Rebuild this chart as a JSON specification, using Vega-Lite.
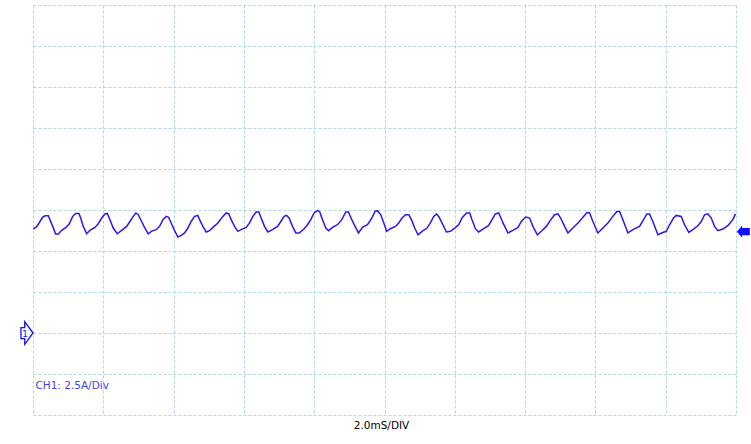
{
  "$schema": "https://vega.github.io/schema/vega-lite/v6.json",
  "autosize": {"type": "none"},
  "width": 703,
  "height": 410,
  "padding": {"left": 33, "top": 5, "right": 15, "bottom": 29},
  "background": "white",
  "config": {"view": {"stroke": null}},
  "datasets": {
    "trace": [
      {"t":0.01,"i":6.34},{"t":0.105,"i":6.48},{"t":0.199,"i":6.80},{"t":0.276,"i":7.07},{"t":0.341,"i":7.15},{"t":0.435,"i":7.15},{"t":0.483,"i":6.91},{"t":0.560,"i":6.50},{"t":0.645,"i":6.04},{"t":0.719,"i":6.04},{"t":0.816,"i":6.26},{"t":0.938,"i":6.44},{"t":1.032,"i":6.66},{"t":1.129,"i":7.11},{"t":1.214,"i":7.29},{"t":1.308,"i":7.29},{"t":1.356,"i":7.01},{"t":1.430,"i":6.50},{"t":1.527,"i":6.05},{"t":1.620,"i":6.26},{"t":1.763,"i":6.44},{"t":1.856,"i":6.66},{"t":1.953,"i":7.01},{"t":2.047,"i":7.26},{"t":2.112,"i":7.29},{"t":2.189,"i":6.91},{"t":2.283,"i":6.40},{"t":2.397,"i":6.05},{"t":2.522,"i":6.26},{"t":2.664,"i":6.50},{"t":2.758,"i":6.80},{"t":2.851,"i":7.11},{"t":2.928,"i":7.32},{"t":2.994,"i":7.21},{"t":3.090,"i":6.80},{"t":3.184,"i":6.40},{"t":3.278,"i":6.04},{"t":3.363,"i":6.20},{"t":3.505,"i":6.30},{"t":3.602,"i":6.50},{"t":3.696,"i":6.91},{"t":3.790,"i":7.11},{"t":3.858,"i":7.05},{"t":3.932,"i":6.71},{"t":4.028,"i":6.24},{"t":4.122,"i":5.85},{"t":4.216,"i":5.95},{"t":4.313,"i":6.10},{"t":4.407,"i":6.40},{"t":4.500,"i":6.80},{"t":4.597,"i":7.11},{"t":4.691,"i":7.17},{"t":4.739,"i":6.91},{"t":4.833,"i":6.50},{"t":4.927,"i":6.16},{"t":5.024,"i":6.24},{"t":5.117,"i":6.44},{"t":5.259,"i":6.71},{"t":5.402,"i":7.11},{"t":5.495,"i":7.32},{"t":5.572,"i":7.26},{"t":5.638,"i":6.91},{"t":5.734,"i":6.50},{"t":5.828,"i":6.20},{"t":5.922,"i":6.30},{"t":6.064,"i":6.44},{"t":6.161,"i":6.71},{"t":6.254,"i":7.11},{"t":6.348,"i":7.38},{"t":6.425,"i":7.38},{"t":6.490,"i":7.01},{"t":6.587,"i":6.50},{"t":6.681,"i":6.16},{"t":6.815,"i":6.30},{"t":6.957,"i":6.50},{"t":7.050,"i":6.80},{"t":7.144,"i":7.11},{"t":7.212,"i":7.17},{"t":7.286,"i":7.01},{"t":7.383,"i":6.50},{"t":7.477,"i":6.10},{"t":7.571,"i":6.10},{"t":7.713,"i":6.36},{"t":7.810,"i":6.60},{"t":7.903,"i":6.91},{"t":7.997,"i":7.32},{"t":8.094,"i":7.46},{"t":8.159,"i":7.38},{"t":8.236,"i":6.91},{"t":8.330,"i":6.40},{"t":8.407,"i":6.24},{"t":8.520,"i":6.44},{"t":8.662,"i":6.60},{"t":8.785,"i":6.91},{"t":8.898,"i":7.38},{"t":8.975,"i":7.38},{"t":9.069,"i":6.91},{"t":9.163,"i":6.50},{"t":9.259,"i":6.10},{"t":9.373,"i":6.44},{"t":9.515,"i":6.60},{"t":9.638,"i":7.01},{"t":9.731,"i":7.41},{"t":9.800,"i":7.46},{"t":9.894,"i":7.21},{"t":10.016,"i":6.50},{"t":10.056,"i":6.20},{"t":10.169,"i":6.36},{"t":10.312,"i":6.50},{"t":10.405,"i":6.71},{"t":10.499,"i":7.01},{"t":10.596,"i":7.21},{"t":10.689,"i":7.21},{"t":10.766,"i":6.91},{"t":10.860,"i":6.40},{"t":10.954,"i":5.99},{"t":11.068,"i":6.20},{"t":11.210,"i":6.40},{"t":11.306,"i":6.71},{"t":11.400,"i":7.11},{"t":11.477,"i":7.26},{"t":11.542,"i":7.11},{"t":11.636,"i":6.71},{"t":11.761,"i":6.16},{"t":11.875,"i":6.20},{"t":11.997,"i":6.40},{"t":12.111,"i":6.60},{"t":12.205,"i":7.01},{"t":12.330,"i":7.32},{"t":12.424,"i":7.32},{"t":12.489,"i":6.91},{"t":12.586,"i":6.36},{"t":12.680,"i":6.16},{"t":12.822,"i":6.36},{"t":12.964,"i":6.56},{"t":13.058,"i":6.91},{"t":13.154,"i":7.26},{"t":13.248,"i":7.32},{"t":13.313,"i":7.01},{"t":13.370,"i":6.71},{"t":13.512,"i":6.10},{"t":13.655,"i":6.26},{"t":13.797,"i":6.44},{"t":13.893,"i":6.80},{"t":14.016,"i":7.07},{"t":14.129,"i":7.01},{"t":14.223,"i":6.50},{"t":14.348,"i":5.99},{"t":14.462,"i":6.20},{"t":14.604,"i":6.50},{"t":14.718,"i":6.87},{"t":14.840,"i":7.21},{"t":14.934,"i":7.27},{"t":15.011,"i":7.01},{"t":15.124,"i":6.50},{"t":15.218,"i":6.10},{"t":15.360,"i":6.40},{"t":15.503,"i":6.71},{"t":15.628,"i":7.01},{"t":15.758,"i":7.35},{"t":15.835,"i":7.32},{"t":15.929,"i":6.80},{"t":16.071,"i":6.10},{"t":16.213,"i":6.40},{"t":16.355,"i":6.71},{"t":16.497,"i":7.11},{"t":16.611,"i":7.41},{"t":16.688,"i":7.41},{"t":16.782,"i":6.91},{"t":16.924,"i":6.10},{"t":17.066,"i":6.30},{"t":17.256,"i":6.50},{"t":17.370,"i":6.91},{"t":17.464,"i":7.26},{"t":17.541,"i":7.26},{"t":17.635,"i":6.80},{"t":17.777,"i":5.99},{"t":17.919,"i":6.13},{"t":18.016,"i":6.20},{"t":18.110,"i":6.60},{"t":18.223,"i":7.01},{"t":18.300,"i":7.17},{"t":18.442,"i":7.11},{"t":18.536,"i":6.60},{"t":18.658,"i":6.13},{"t":18.772,"i":6.30},{"t":18.914,"i":6.54},{"t":19.011,"i":6.80},{"t":19.105,"i":7.21},{"t":19.198,"i":7.27},{"t":19.295,"i":7.01},{"t":19.389,"i":6.50},{"t":19.483,"i":6.24},{"t":19.625,"i":6.34},{"t":19.767,"i":6.54},{"t":19.909,"i":6.91},{"t":19.986,"i":7.26}
    ],
    "ground": [{"t": 0, "i": 0, "s": "1"}],
    "trigger": [{"t": 20, "i": 6.18}],
    "label": [{"t": 0.07, "i": -3.4, "s": "CH1: 2.5A/Div"}]
  },
  "layer": [
    {
      "data": {"name": "trace"},
      "mark": {"type": "line", "color": "#3314ee", "strokeWidth": 1.5, "interpolate": "linear"},
      "encoding": {
        "x": {"field": "t", "type": "quantitative",
              "scale": {"domain": [0, 20], "nice": false, "zero": false},
              "axis": {"values": [0,2,4,6,8,10,12,14,16,18,20], "grid": true, "gridColor": "#b0d6e6", "gridDash": [3, 2], "gridWidth": 1,
                       "domain": false, "ticks": false, "labels": false,
                       "title": "2.0mS/DIV", "titleFont": "DejaVu Sans", "titleFontSize": 10.5, "titleFontWeight": "normal", "titleColor": "#000000", "titlePadding": 5, "titleX": 348}},
        "y": {"field": "i", "type": "quantitative",
              "scale": {"domain": [-5, 20], "nice": false, "zero": false},
              "axis": {"values": [-5,-2.5,0,2.5,5,7.5,10,12.5,15,17.5,20], "grid": true, "gridColor": "#b0d6e6", "gridDash": [3, 2], "gridWidth": 1,
                       "domain": false, "ticks": false, "labels": false, "title": null}}
      }
    },
    {
      "data": {"name": "ground"},
      "mark": {"type": "point", "shape": "M0,0 L-0.73,-1 L-0.73,-0.48 L-1.06,-0.48 L-1.06,0.5 L-0.73,0.5 L-0.73,1 Z", "size": 515, "filled": true, "fill": "white", "stroke": "#1010ff", "strokeWidth": 1.3, "opacity": 1},
      "encoding": {
        "x": {"field": "t", "type": "quantitative"},
        "y": {"field": "i", "type": "quantitative"}
      }
    },
    {
      "data": {"name": "ground"},
      "mark": {"type": "text", "color": "#1010ff", "font": "DejaVu Sans", "fontSize": 9, "dx": -8, "dy": 0.5, "align": "center", "baseline": "middle"},
      "encoding": {
        "x": {"field": "t", "type": "quantitative"},
        "y": {"field": "i", "type": "quantitative"},
        "text": {"field": "s"}
      }
    },
    {
      "data": {"name": "trigger"},
      "mark": {"type": "point", "shape": "M0.15,0 L1,-1 L1,-0.6 L2.25,-0.6 L2.25,0.6 L1,0.6 L1,1 Z", "size": 151, "filled": true, "fill": "#1010ff", "stroke": null, "opacity": 1},
      "encoding": {
        "x": {"field": "t", "type": "quantitative"},
        "y": {"field": "i", "type": "quantitative"}
      }
    },
    {
      "data": {"name": "label"},
      "mark": {"type": "text", "color": "#4444e6", "font": "DejaVu Sans", "fontSize": 10.5, "align": "left", "baseline": "alphabetic"},
      "encoding": {
        "x": {"field": "t", "type": "quantitative"},
        "y": {"field": "i", "type": "quantitative"},
        "text": {"field": "s"}
      }
    }
  ]
}
